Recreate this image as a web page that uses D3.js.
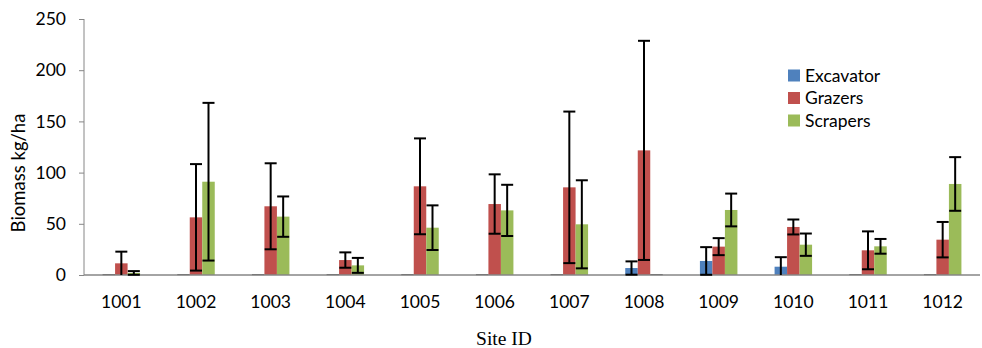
<!DOCTYPE html>
<html><head><meta charset="utf-8">
<script src="https://cdn.jsdelivr.net/npm/d3@7"></script>
<style>body{margin:0;background:#fff}svg{display:block}</style>
</head><body>
<script>
const sites = ["1001","1002","1003","1004","1005","1006","1007","1008","1009","1010","1011","1012"];
const seriesNames = ["Excavator","Grazers","Scrapers"];
const excavator    = [0,0,0,0,0,0,0,6.8,13.7,8.1,0,0];
const excavatorErr = [0,0,0,0,0,0,0,6.5,13.5,9.3,0,0];
const grazers      = [11.4,56.3,67.1,14.6,86.6,69.3,85.6,121.7,27.7,46.9,24.1,34.5];
const grazersErr   = [11.4,52,42,7.5,46.8,29,74,107,8.3,7.3,18.5,17.3];
const scrapers     = [2,91.1,57,9.4,46.2,63.1,49.5,0,63.5,29.6,28,88.9];
const scrapersErr  = [1.8,77,19.7,7.3,21.8,25,43,0,16,10.9,7.2,26.2];
const yTicks = [0,50,100,150,200,250];
const colors = ["#4F81BD","#C0504D","#9BBB59"];

const W=982,H=348;
const svg=d3.select("body").append("svg").attr("width",W).attr("height",H);
const x=d3.scaleBand().domain(sites).range([84,980]);
const y=d3.scaleLinear().domain([0,250]).range([275,19]);
const bw=12.5;
const allVals=[excavator,grazers,scrapers], allErr=[excavatorErr,grazersErr,scrapersErr];
const font="Lato, 'Open Sans', sans-serif";
const fs="17.5px";

// axes
const yAx=svg.append("g").attr("transform","translate(84,0)").call(d3.axisLeft(y).tickValues(yTicks).tickSize(5).tickPadding(13).tickFormat(d3.format("d")));
yAx.select(".domain").attr("stroke","#868686").attr("d","M0,19V275");
yAx.selectAll(".tick line").attr("stroke","#868686");
yAx.selectAll("text").attr("font-family",font).attr("font-size",fs).attr("fill","#000");

// bars
seriesNames.forEach((s,si)=>{
  const g=svg.append("g");
  sites.forEach((site,i)=>{
    const v=allVals[si][i];
    const x0=x(site)+x.bandwidth()/2-1.5*bw+si*bw;
    if(v>0){
      g.append("rect").attr("x",x0).attr("y",y(v)).attr("width",bw).attr("height",y(0)-y(v)).attr("fill",colors[si]);
    } else {
      g.append("rect").attr("x",x0).attr("y",y(0)-1).attr("width",bw).attr("height",1.2).attr("fill","#555");
    }
  });
});

const xAx=svg.append("g").attr("transform","translate(0,275)").call(d3.axisBottom(x).tickSize(0).tickPadding(21));
xAx.select(".domain").attr("stroke","#868686").attr("stroke-width",1.5).attr("d","M84,0H980");
xAx.selectAll("text").attr("font-family",font).attr("font-size",fs).attr("fill","#000");

// error bars
seriesNames.forEach((s,si)=>{
  const g=svg.append("g").attr("stroke","#000").attr("stroke-width",2);
  sites.forEach((site,i)=>{
    const v=allVals[si][i], e=allErr[si][i];
    if(e<=0) return;
    const cx=x(site)+x.bandwidth()/2-1.5*bw+si*bw+bw/2;
    const lo=Math.max(0,v-e), hi=v+e;
    g.append("line").attr("x1",cx).attr("x2",cx).attr("y1",y(lo)).attr("y2",y(hi));
    g.append("line").attr("x1",cx-6).attr("x2",cx+6).attr("y1",y(hi)).attr("y2",y(hi));
    if(lo>0) g.append("line").attr("x1",cx-6).attr("x2",cx+6).attr("y1",y(lo)).attr("y2",y(lo));
  });
});

// axis titles
svg.append("text").attr("transform","translate(25,173) rotate(-90)").attr("text-anchor","middle")
  .attr("font-family",font).attr("font-size","18.5px").text("Biomass kg/ha");
svg.append("text").attr("x",504).attr("y",345).attr("text-anchor","middle")
  .attr("font-family","'Liberation Serif', 'Times New Roman', serif").attr("font-size","19.5px").text("Site ID");

// legend
const lg=svg.append("g");
seriesNames.forEach((s,i)=>{
  const cy=75.5+i*22.5;
  lg.append("rect").attr("x",788).attr("y",cy-6).attr("width",12).attr("height",12).attr("fill",colors[i]);
  lg.append("text").attr("x",805).attr("y",cy).attr("dy","0.35em").attr("font-family",font).attr("font-size",fs).text(s);
});
</script>
</body></html>
